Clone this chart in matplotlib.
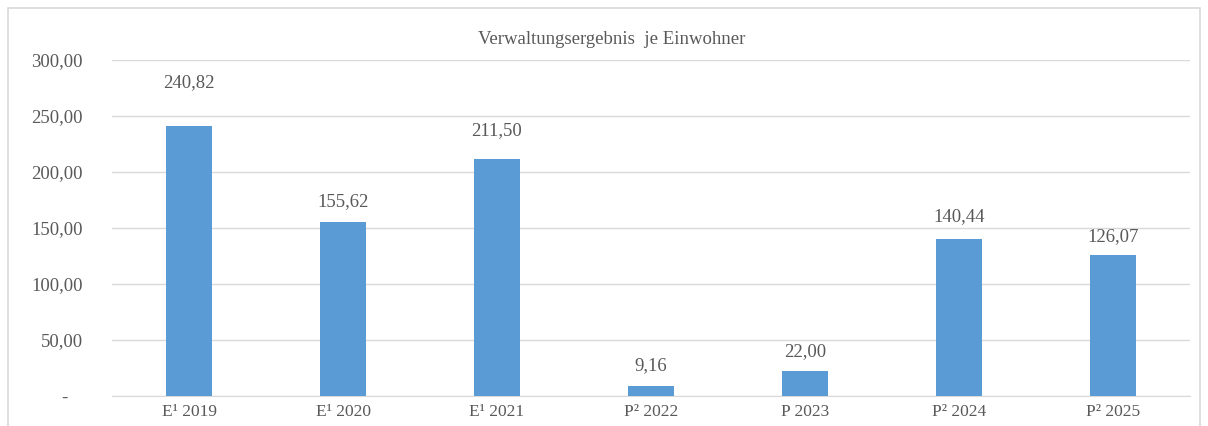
import matplotlib
matplotlib.use('Agg')
import matplotlib.pyplot as plt
from matplotlib.patches import Rectangle

plt.rcParams['font.family'] = ['Liberation Serif', 'DejaVu Serif']

# data
categories = ['E¹ 2019', 'E¹ 2020', 'E¹ 2021', 'P² 2022', 'P 2023', 'P² 2024', 'P² 2025']
values = [240.82, 155.62, 211.50, 9.16, 22.00, 140.44, 126.07]
y_ticks = [0, 50, 100, 150, 200, 250, 300]
# label distance above bar top (pixels), as placed in the original
label_offsets = [44, 20, 29, 20, 20, 22, 18]

text_col = '#595959'
bar_col = '#5B9BD5'
grid_col = '#D9D9D9'

def de_fmt(v):
    # accounting style: zero shown as a dash
    if v == 0:
        return '-   '
    return f'{v:,.2f}'.replace(',', 'X').replace('.', ',').replace('X', '.')

fig = plt.figure(figsize=(12.08, 4.26), dpi=100)
fig.patches.append(Rectangle((8/1208, -0.01), 1192/1208, 1 - 8/426 + 0.01,
                             transform=fig.transFigure, fill=False,
                             edgecolor='#D9D9D9', linewidth=1.2))

ax = fig.add_axes([112/1208, 30/426, 1078/1208, 336/426])
x = range(len(categories))
ax.bar(x, values, width=0.3, color=bar_col, zorder=3)

for i, v in enumerate(values):
    ax.annotate(de_fmt(v), (i, v), xytext=(0, label_offsets[i]), textcoords='offset pixels',
                ha='center', va='center', fontsize=13.5, color=text_col)

ax.set_xlim(-0.5, len(categories) - 0.5)
ax.set_ylim(0, 300)
ax.set_yticks(y_ticks)
ax.set_yticklabels([de_fmt(t) for t in y_ticks], fontsize=13.5, color=text_col)
ax.set_xticks(list(x))
ax.set_xticklabels(categories, fontsize=12.5, color=text_col)
ax.tick_params(axis='both', length=0)
ax.tick_params(axis='y', pad=21)
ax.tick_params(axis='x', pad=6)
ax.yaxis.grid(True, color=grid_col, linewidth=1, zorder=0)
for s in ['top', 'right', 'left']:
    ax.spines[s].set_visible(False)
ax.spines['bottom'].set_color(grid_col)

fig.text(612/1208, 1 - 40/426, 'Verwaltungsergebnis  je Einwohner', ha='center', va='center',
         fontsize=13.5, color=text_col)

fig.savefig('out.png', dpi=100, facecolor='white')
